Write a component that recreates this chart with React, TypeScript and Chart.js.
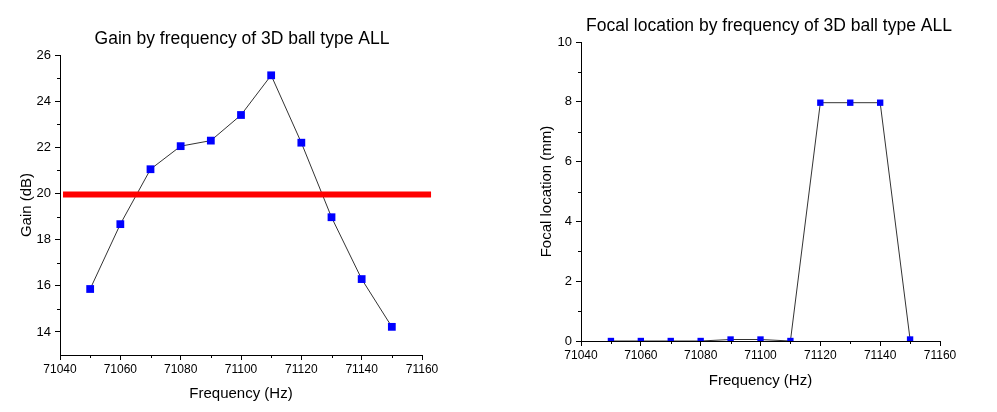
import React, { useEffect, useRef } from 'react';
import { Chart, registerables } from 'chart.js';

Chart.register(...registerables);

// ---- data ----
const frequencies = [71050, 71060, 71070, 71080, 71090, 71100, 71110, 71120, 71130, 71140, 71150];
const gainValues = [15.86, 18.67, 21.05, 22.05, 22.29, 23.4, 25.12, 22.2, 18.97, 16.29, 14.22];
const focalValues = [0, 0, 0, 0, 0.05, 0.05, 0, 7.97, 7.97, 7.97, 0.05];
const thresholdFreqs = [71041, 71163];
const thresholdGain = [19.95, 19.95];

const xTicks = [71040, 71060, 71080, 71100, 71120, 71140, 71160];
const xMinorTicks = [71050, 71070, 71090, 71110, 71130, 71150];
const gainTicks = [14, 16, 18, 20, 22, 24, 26];
const gainMinorTicks = [15, 17, 19, 21, 23, 25];
const focalTicks = [0, 2, 4, 6, 8, 10];
const focalMinorTicks = [1, 3, 5, 7, 9];

const FONT = '"Liberation Sans", Arial, sans-serif';

const minorTickPlugin = {
  id: 'minorTicks',
  afterDraw(chart: any, _args: any, opts: any) {
    const ctx = chart.ctx;
    const xs = chart.scales.x;
    const ys = chart.scales.y;
    const area = chart.chartArea;
    ctx.save();
    ctx.strokeStyle = '#000';
    ctx.lineWidth = 1;
    ctx.beginPath();
    for (const v of opts.x || []) {
      const px = Math.round(xs.getPixelForValue(v)) + 0.5;
      ctx.moveTo(px, area.bottom);
      ctx.lineTo(px, area.bottom + 3);
    }
    for (const v of opts.y || []) {
      const py = Math.round(ys.getPixelForValue(v)) + 0.5;
      ctx.moveTo(area.left, py);
      ctx.lineTo(area.left - 3, py);
    }
    ctx.stroke();
    ctx.restore();
  },
};

// Title centred over the plot area (as in the reference), drawn on the canvas.
const plotTitlePlugin = {
  id: 'plotTitle',
  afterDraw(chart: any, _args: any, opts: any) {
    const ctx = chart.ctx;
    const area = chart.chartArea;
    ctx.save();
    ctx.fillStyle = '#000';
    ctx.font = `${opts.size}px ${FONT}`;
    ctx.textAlign = 'center';
    ctx.textBaseline = 'middle';
    ctx.fillText(opts.text, (area.left + area.right) / 2 + opts.dx, opts.y);
    ctx.restore();
  },
};

function axisCommon() {
  return {
    grid: { display: true, drawOnChartArea: false, drawTicks: true, tickLength: 5, color: '#000', tickColor: '#000', lineWidth: 1 },
    border: { display: true, color: '#000', width: 1 },
  };
}

function buildConfig(p: any) {
  const datasets: any[] = [
    {
      label: p.seriesLabel,
      data: frequencies.map((f, i) => ({ x: f, y: p.values[i] })),
      borderColor: '#333',
      borderWidth: 1,
      tension: 0,
      pointStyle: 'rect',
      pointRadius: p.pointRadius,
      pointBackgroundColor: '#0000ff',
      pointBorderWidth: 0,
      pointHoverRadius: p.pointRadius,
      clip: p.clip,
      order: 1,
    },
  ];
  if (p.threshold) {
    datasets.push({
      label: 'threshold',
      data: thresholdFreqs.map((f, i) => ({ x: f, y: thresholdGain[i] })),
      borderColor: '#ff0000',
      borderWidth: 6,
      pointRadius: 0,
      clip: false,
      order: 0,
    });
  }
  return {
    type: 'line',
    data: { datasets },
    plugins: [minorTickPlugin, plotTitlePlugin],
    options: {
      animation: false,
      responsive: false,
      devicePixelRatio: 1,
      layout: { padding: p.padding },
      plugins: {
        legend: { display: false },
        tooltip: { enabled: false },
        title: { display: false },
        plotTitle: { text: p.title, size: 17.5, y: p.titleY, dx: p.titleDx },
        minorTicks: { x: xMinorTicks, y: p.yMinor },
      },
      scales: {
        x: {
          type: 'linear',
          min: 71040,
          max: 71160,
          afterBuildTicks: (s: any) => { s.ticks = xTicks.map((v) => ({ value: v })); },
          afterFit: (s: any) => { s.height = p.xAxisHeight; },
          ...axisCommon(),
          ticks: {
            color: '#000',
            font: { family: FONT, size: 12 },
            padding: 2,
            maxRotation: 0,
            autoSkip: false,
            callback: (v: any) => String(v),
          },
          title: {
            display: true,
            text: 'Frequency (Hz)',
            color: '#000',
            font: { family: FONT, size: 15 },
            padding: { top: 0, bottom: p.xTitleBottom },
          },
        },
        y: {
          type: 'linear',
          min: p.yMin,
          max: p.yMax,
          afterBuildTicks: (s: any) => { s.ticks = p.yTicks.map((v: number) => ({ value: v })); },
          afterFit: (s: any) => { s.width = p.yAxisWidth; },
          ...axisCommon(),
          ticks: {
            color: '#000',
            font: { family: FONT, size: 13 },
            padding: 4,
            autoSkip: false,
            callback: (v: any) => String(v),
          },
          title: {
            display: true,
            text: p.yTitle,
            color: '#000',
            font: { family: FONT, size: 15 },
            padding: { top: p.yTitleTop, bottom: 0 },
          },
        },
      },
    },
  };
}

function ChartCanvas({ config, width, height, left }: any) {
  const ref = useRef<HTMLCanvasElement | null>(null);
  useEffect(() => {
    if (!ref.current) return;
    const chart = new Chart(ref.current, config);
    return () => chart.destroy();
  }, []);
  return (
    <canvas
      ref={ref}
      width={width}
      height={height}
      style={{ position: 'absolute', left, top: 0, width, height }}
    />
  );
}

export default function App() {
  const gainConfig = buildConfig({
    seriesLabel: 'Gain (dB)',
    values: gainValues,
    pointRadius: 5.5,
    clip: undefined,
    threshold: true,
    title: 'Gain by frequency of 3D ball type ALL',
    titleY: 39,
    titleDx: 1,
    padding: { left: 0, right: 62, top: 55, bottom: 0 },
    xAxisHeight: 57,
    xTitleBottom: 9,
    yMin: 13,
    yMax: 26,
    yTicks: gainTicks,
    yMinor: gainMinorTicks,
    yAxisWidth: 60,
    yTitle: 'Gain (dB)',
    yTitleTop: 18,
  });
  const focalConfig = buildConfig({
    seriesLabel: 'Focal location (mm)',
    values: focalValues,
    pointRadius: 4.5,
    clip: 0,
    threshold: false,
    title: 'Focal location by frequency of 3D ball type ALL',
    titleY: 26,
    titleDx: 8.5,
    padding: { left: 0, right: 68, top: 42, bottom: 0 },
    xAxisHeight: 71,
    xTitleBottom: 22.5,
    yMin: 0,
    yMax: 10,
    yTicks: focalTicks,
    yMinor: focalMinorTicks,
    yAxisWidth: 51,
    yTitle: 'Focal location (mm)',
    yTitleTop: 8,
  });
  return (
    <div
      style={{
        position: 'fixed',
        left: 0,
        top: 0,
        width: 997,
        height: 412,
        overflow: 'hidden',
        background: '#fff',
      }}
    >
      <ChartCanvas config={gainConfig} width={484} height={412} left={0} />
      <ChartCanvas config={focalConfig} width={478} height={412} left={530} />
    </div>
  );
}
